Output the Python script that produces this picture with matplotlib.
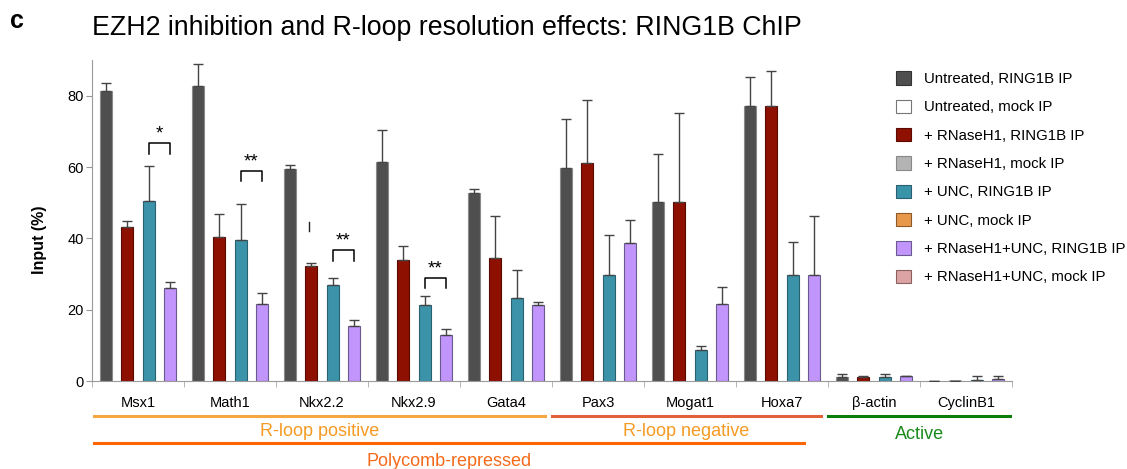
import matplotlib
matplotlib.use("Agg")
import matplotlib.pyplot as plt
from matplotlib.patches import Patch
from matplotlib.transforms import blended_transform_factory
import numpy as np

plt.rcParams['font.family'] = ['Liberation Sans', 'DejaVu Sans']

genes = ['Msx1', 'Math1', 'Nkx2.2', 'Nkx2.9', 'Gata4', 'Pax3', 'Mogat1', 'Hoxa7', 'β-actin', 'CyclinB1']

# RING1B IP (% input) and upper error
untreated = [81.3, 82.7, 59.5, 61.4, 52.6, 59.7, 50.1, 77.1, 1.0, 0.0]
untreated_err = [2.2, 6.3, 1.1, 8.9, 1.2, 13.7, 13.5, 8.1, 1.1, 0.0]
rnase = [43.3, 40.3, 32.2, 33.9, 34.4, 61.0, 50.1, 77.1, 1.2, 0.0]
rnase_err = [1.7, 6.4, 1.0, 3.9, 11.8, 17.7, 25.0, 9.7, 0.2, 0.0]
unc = [50.4, 39.5, 26.8, 21.2, 23.4, 29.6, 8.6, 29.6, 1.0, 0.4]
unc_err = [9.8, 10.0, 2.0, 2.5, 7.6, 11.3, 1.3, 9.4, 1.1, 0.9]
combo = [26.0, 21.7, 15.4, 12.9, 21.2, 38.7, 21.7, 29.6, 1.4, 0.5]
combo_err = [1.7, 2.9, 1.7, 1.7, 0.9, 6.4, 4.6, 16.6, 0.0, 0.8]

# mock IP (background, near zero)
untreated_mock = [0, 0, 0, 0, 0, 0, 0, 0, 0, 0]
rnase_mock = [0, 0, 0, 0, 0, 0, 0, 0, 0, 0.2]
unc_mock = [0, 0, 0, 0, 0, 0, 0, 0, 0, 0]
combo_mock = [0, 0, 0, 0, 0, 0, 0, 0, 0, 0]

# significance: (gene index, label, bracket height, leg bottom)
sig = [(0, '*', 66.6, 63.7), (1, '**', 58.8, 56.2), (2, '**', 36.6, 33.6), (3, '**', 28.8, 26.1)]

ip_series = [
    ('Untreated, RING1B IP', untreated, untreated_err, '#4f4f4f', '#8a8a8a'),
    ('+ RNaseH1, RING1B IP', rnase, rnase_err, '#8e1000', '#5a0a00'),
    ('+ UNC, RING1B IP', unc, unc_err, '#3b93aa', '#2a5f70'),
    ('+ RNaseH1+UNC, RING1B IP', combo, combo_err, '#c195fb', '#6b5a8e'),
]
mock_series = [
    ('Untreated, mock IP', untreated_mock, '#ffffff', '#777777'),
    ('+ RNaseH1, mock IP', rnase_mock, '#b3b3b3', '#b3b3b3'),
    ('+ UNC, mock IP', unc_mock, '#e8984a', '#8a5a2a'),
    ('+ RNaseH1+UNC, mock IP', combo_mock, '#dba3a3', '#8a6060'),
]

fig = plt.figure(figsize=(11.27, 4.69), dpi=100)
ax = fig.add_axes([0.0816, 0.1876, 0.8164, 0.6844])

x = np.arange(len(genes))
offsets = (np.arange(4) - 1.5) * 0.233
w = 0.13

for k, (lab, vals, col, ec) in enumerate(mock_series):
    ax.bar(x + offsets[k], vals, w, color=col, edgecolor=col, linewidth=0.6, zorder=1)

for k, (lab, vals, err, col, ec) in enumerate(ip_series):
    ax.bar(x + offsets[k], vals, w, color=col, edgecolor=ec, linewidth=0.8, zorder=2)
    ax.errorbar(x + offsets[k], vals, yerr=[np.zeros(len(err)), err], fmt='none',
                ecolor='#444444', elinewidth=1, capsize=3.5, capthick=1, zorder=3)

# stray mark near Nkx2.2
ax.plot([2 + offsets[1] - 0.03] * 2, [42.0, 44.6], color='#222222', lw=1)

for i, s, top, bot in sig:
    x0, x1 = i + offsets[2], i + offsets[3]
    ax.plot([x0, x0, x1, x1], [bot, top, top, bot], color='black', lw=1.1)
    ax.text((x0 + x1) / 2, top + 0.2, s, ha='center', va='bottom', fontsize=13.5)

ax.set_xlim(-0.5, 9.5)
ax.set_ylim(0, 90)
ax.set_yticks([0, 20, 40, 60, 80])
ax.set_xticks(x)
ax.set_xticklabels(genes, fontsize=10.5)
ax.set_xticks(np.arange(-0.5, 10, 1), minor=True)
ax.tick_params(axis='x', which='major', length=0, pad=11)
ax.tick_params(axis='x', which='minor', length=4, color='#aaaaaa')
ax.tick_params(axis='y', length=4, color='#999999', labelsize=10.5, pad=2)
for sp in ['top', 'right']:
    ax.spines[sp].set_visible(False)
for sp in ['left', 'bottom']:
    ax.spines[sp].set_color('#9a9a9a')
ax.set_ylabel('Input (%)', fontsize=11.5, fontweight='bold')
ax.yaxis.set_label_coords(-0.049, 0.44)

# group annotations below axis
tr = blended_transform_factory(ax.transData, ax.transAxes)
groups = [
    (-0.48, 4.42, -0.109, 'R-loop positive', '#f5a742', '#f59a23', -0.158),
    (4.5, 7.42, -0.109, 'R-loop negative', '#e2603a', '#f59a23', -0.158),
    (7.5, 9.48, -0.109, 'Active', '#0b7d0b', '#1a8a1a', -0.166),
    (-0.48, 7.24, -0.193, 'Polycomb-repressed', '#ff6600', '#f56a1a', -0.25),
]
for a, b, yl, txt, lc, tc, yt in groups:
    ax.plot([a, b], [yl, yl], color=lc, lw=2.2, transform=tr, clip_on=False)
    ax.text((a + b) / 2, yt, txt, color=tc, ha='center', va='center', fontsize=13, transform=tr)

# legend
handles = []
labels = []
for (l1, _, _, c1, e1), (l2, _, c2, e2) in zip(ip_series, mock_series):
    handles.append(Patch(facecolor=c1, edgecolor=e1 if c1 != '#4f4f4f' else '#333333', linewidth=0.8))
    labels.append(l1)
    handles.append(Patch(facecolor=c2, edgecolor=e2 if c2 != '#b3b3b3' else '#888888', linewidth=0.8))
    labels.append(l2)
fig.legend(handles, labels, loc='upper left', bbox_to_anchor=(0.783, 0.877), frameon=False,
           fontsize=10.8, handlelength=1.0, handleheight=1.0, labelspacing=0.9, handletextpad=0.85)

fig.text(0.0816, 0.94, 'EZH2 inhibition and R-loop resolution effects: RING1B ChIP',
         fontsize=19.3, va='center', ha='left')
fig.text(0.009, 0.955, 'c', fontsize=18, fontweight='bold', va='center', ha='left')

fig.savefig('out.png', dpi=100)
